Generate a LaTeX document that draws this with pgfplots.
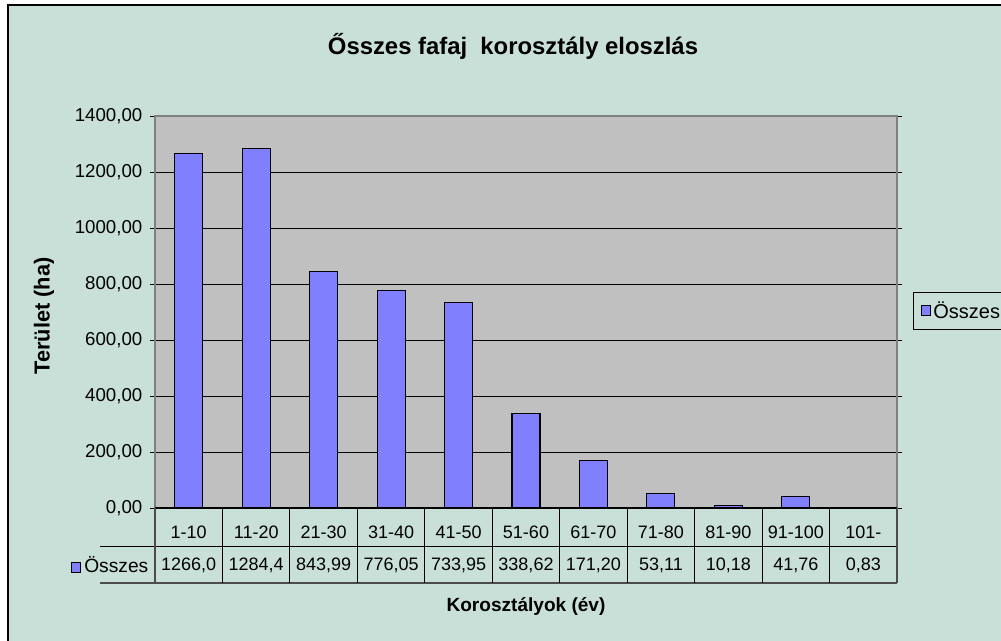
\documentclass[border=0pt]{standalone}
\usepackage{pgfplots}
\pgfplotsset{compat=1.18}
\usepackage{fontspec}
\setmainfont{Liberation Sans}
\definecolor{bgc}{HTML}{C9E0D8}
\definecolor{plotc}{HTML}{C0C0C0}
\definecolor{barc}{HTML}{8080FF}
\newcommand{\keybox}{{\setlength\fboxsep{0pt}\setlength\fboxrule{0.6pt}\fcolorbox{black}{barc}{\rule{6.3pt}{0pt}\rule{0pt}{7pt}}}}
\begin{document}
\begin{tikzpicture}
\useasboundingbox (0,0) rectangle (750.75pt,480pt);
\clip (0,0) rectangle (750.75pt,480pt);
\fill[white] (0,0) rectangle (750.75pt,480pt);
\begin{scope}[x=0.75pt,y=-0.75pt,shift={(0,480pt)}]
\fill[bgc] (8,5) rectangle (1010,650);
\draw[black,line width=1.2pt] (8,650) -- (8,5) -- (1010,5);
\node[font=\fontsize{17.9}{20}\selectfont\bfseries] at (513,46) {Ősszes fafaj\ \ korosztály eloszlás};
\node[font=\fontsize{14.3}{17}\selectfont\bfseries] at (526,606) {Korosztályok (év)};
\node[font=\fontsize{16.3}{19}\selectfont\bfseries,rotate=90] at (44,316) {Terület (ha)};
\end{scope}
\begin{axis}[
  at={(116.25pt,99pt)}, anchor=south west,
  width=556.5pt, height=294pt, scale only axis,
  clip=false,
  axis background/.style={fill=plotc},
  axis line style={draw=gray, line width=1.2pt},
  xmin=-0.5, xmax=10.5, ymin=0, ymax=1400,
  ytick={0,200,...,1400},
  ymajorgrids, major grid style={black, line width=0.7pt},
  tick align=outside, major tick length=4pt,
  ytick style={black, line width=0.7pt},
  xtick={0,...,10}, xtick style={draw=none},
  xticklabels={1-10,11-20,21-30,31-40,41-50,51-60,61-70,71-80,81-90,91-100,101-},
  xticklabel style={anchor=center, yshift=-14.25pt, font=\fontsize{13.5}{16}\selectfont},
  yticklabel style={font=\fontsize{14}{16}\selectfont, xshift=-2pt},
  /pgf/number format/assume math mode=true,
  y tick label style={/pgf/number format/.cd, fixed, fixed zerofill, precision=2, use comma, 1000 sep={}},
  legend style={at={(1.0216,0.5026)}, anchor=west, draw=black, fill=bgc, font=\fontsize{15}{17}\selectfont, inner xsep=5.5pt, inner ysep=5pt},
  legend image code/.code={\draw[fill=barc,draw=black,line width=0.6pt] (0pt,-3.6pt) rectangle (7pt,4.2pt);},
]
\addplot[ybar, bar width=21pt, fill=barc, draw=black, line width=0.8pt] coordinates {
(0,1266.0) (1,1284.4) (2,843.99) (3,776.05) (4,733.95) (5,338.62) (6,171.20) (7,53.11) (8,10.18) (9,41.76) (10,0.83)};
\addlegendentry{Összes}
% data table grid
\draw[black, line width=0.8pt] (axis cs:-0.5,0) -- (axis cs:10.5,0);
\draw[black, line width=0.7pt] (axis cs:-1.315,-135.7) -- (axis cs:10.5,-135.7);
\draw[black!70, line width=1pt] (axis cs:-1.315,-267.9) -- (axis cs:10.5,-267.9);
\pgfplotsinvokeforeach{0.5,1.5,...,9.5}{\draw[black, line width=0.7pt] (axis cs:#1,0) -- (axis cs:#1,-267.9);}
\draw[black!70, line width=1pt] (axis cs:-0.5,0) -- (axis cs:-0.5,-267.9);
\draw[black!70, line width=1pt] (axis cs:10.5,0) -- (axis cs:10.5,-267.9);
\begin{scope}[every node/.style={font=\fontsize{13.5}{16}\selectfont, anchor=center}]
\node at (axis cs:0,-203.6) {1266,0};
\node at (axis cs:1,-203.6) {1284,4};
\node at (axis cs:2,-203.6) {843,99};
\node at (axis cs:3,-203.6) {776,05};
\node at (axis cs:4,-203.6) {733,95};
\node at (axis cs:5,-203.6) {338,62};
\node at (axis cs:6,-203.6) {171,20};
\node at (axis cs:7,-203.6) {53,11};
\node at (axis cs:8,-203.6) {10,18};
\node at (axis cs:9,-203.6) {41,76};
\node at (axis cs:10,-203.6) {0,83};
\node[anchor=east, xshift=-1.5pt, font=\fontsize{14.4}{17}\selectfont] at (axis cs:-0.5,-203.6) {\raisebox{0.5pt}{\keybox}\hspace{2.5pt}Összes};
\end{scope}
\end{axis}
\end{tikzpicture}
\end{document}
